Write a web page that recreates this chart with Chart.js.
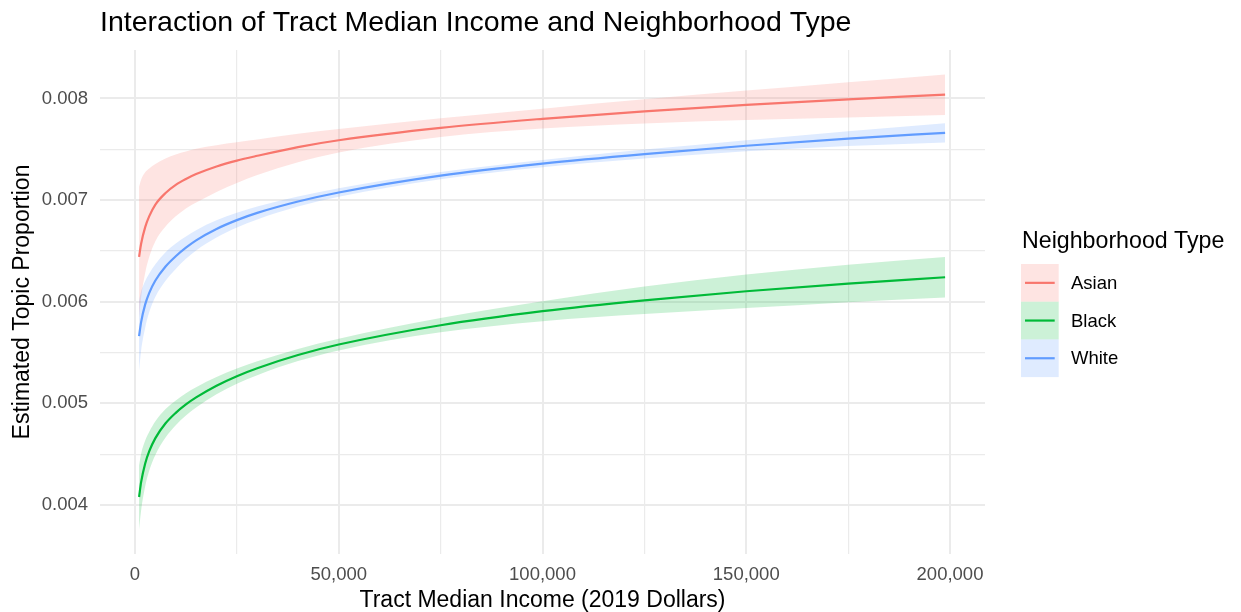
<!DOCTYPE html>
<html>
<head>
<meta charset="utf-8">
<title>Tract Median Income and Neighborhood Type</title>
<script src="https://cdn.jsdelivr.net/npm/chart.js@4"></script>
<style>
    html, body { margin: 0; padding: 0; background: #ffffff; }
    canvas { display: block; }
</style>
</head>
<body>
<canvas id="income-chart" width="1241" height="612"></canvas>
<script>
// Tract median income (2019 dollars) at which the fitted curves are sampled
const incomes = [1000, 1500, 2500, 3500, 5000, 7500, 10000, 12500, 15000, 20000, 25000, 30000, 40000, 50000, 75000, 100000, 125000, 150000, 175000, 198800];

// Estimated topic proportion with confidence band, per neighborhood type
const asianFit  = [0.006441, 0.006571, 0.006734, 0.006842, 0.006956, 0.007070, 0.007150, 0.007208, 0.007256, 0.007331, 0.007389, 0.007436, 0.007522, 0.007589, 0.007711, 0.007800, 0.007874, 0.007938, 0.007992, 0.008037];
const asianHigh = [0.007131, 0.007201, 0.007274, 0.007312, 0.007356, 0.007410, 0.007450, 0.007478, 0.007506, 0.007541, 0.007569, 0.007596, 0.007652, 0.007699, 0.007806, 0.007900, 0.007992, 0.008078, 0.008160, 0.008237];
const asianLow  = [0.005841, 0.006041, 0.006284, 0.006442, 0.006596, 0.006740, 0.006840, 0.006918, 0.006976, 0.007081, 0.007169, 0.007246, 0.007372, 0.007469, 0.007621, 0.007705, 0.007754, 0.007788, 0.007812, 0.007837];

const blackFit  = [0.004079, 0.004225, 0.004409, 0.004530, 0.004658, 0.004804, 0.004907, 0.004990, 0.005059, 0.005174, 0.005268, 0.005346, 0.005476, 0.005579, 0.005769, 0.005907, 0.006014, 0.006103, 0.006179, 0.006241];
const blackHigh = [0.004389, 0.004505, 0.004634, 0.004720, 0.004823, 0.004944, 0.005029, 0.005100, 0.005159, 0.005259, 0.005343, 0.005414, 0.005536, 0.005637, 0.005839, 0.006005, 0.006149, 0.006268, 0.006364, 0.006441];
const blackLow  = [0.003759, 0.003945, 0.004184, 0.004340, 0.004493, 0.004664, 0.004785, 0.004880, 0.004959, 0.005089, 0.005193, 0.005278, 0.005416, 0.005521, 0.005699, 0.005809, 0.005879, 0.005938, 0.005996, 0.006043];

const whiteFit  = [0.005662, 0.005800, 0.005974, 0.006088, 0.006209, 0.006347, 0.006448, 0.006532, 0.006604, 0.006716, 0.006803, 0.006874, 0.006986, 0.007075, 0.007241, 0.007359, 0.007453, 0.007535, 0.007605, 0.007662];
const whiteHigh = [0.006012, 0.006100, 0.006204, 0.006278, 0.006369, 0.006487, 0.006573, 0.006642, 0.006704, 0.006801, 0.006876, 0.006938, 0.007036, 0.007117, 0.007276, 0.007395, 0.007497, 0.007590, 0.007678, 0.007757];
const whiteLow  = [0.005322, 0.005520, 0.005744, 0.005898, 0.006049, 0.006207, 0.006323, 0.006422, 0.006504, 0.006631, 0.006730, 0.006810, 0.006936, 0.007033, 0.007206, 0.007323, 0.007409, 0.007480, 0.007532, 0.007567];

const groupNames = ['Asian', 'Black', 'White'];

// Axis breaks: labelled majors and unlabelled minors
const xMajor = [0, 50000, 100000, 150000, 200000];
const xMinor = [25000, 75000, 125000, 175000];
const yMajor = [0.004, 0.005, 0.006, 0.007, 0.008];
const yMinor = [0.0045, 0.0055, 0.0065, 0.0075];

const FONT = '"Liberation Sans", Arial, Helvetica, sans-serif';
const lineColors = { Asian: '#F8766D', Black: '#00BA38', White: '#619CFF' };
const bandColors = {
    Asian: 'rgba(248, 118, 109, 0.2)',
    Black: 'rgba(0, 186, 56, 0.2)',
    White: 'rgba(97, 156, 255, 0.2)',
};
const gridColor = '#EBEBEB';

const toPoints = (values) => incomes.map((x, i) => ({ x, y: values[i] }));

const series = {
    Asian: { fit: asianFit, high: asianHigh, low: asianLow },
    Black: { fit: blackFit, high: blackHigh, low: blackLow },
    White: { fit: whiteFit, high: whiteHigh, low: whiteLow },
};

// Lower dataset index is drawn on top, so lines come first, then bands.
// Within each, White is on top of Black on top of Asian.
const drawOrder = ['White', 'Black', 'Asian'];

const lineDatasets = drawOrder.map(name => ({
    label: name,
    data: toPoints(series[name].fit),
    borderColor: lineColors[name],
    borderWidth: 2.2,
    pointRadius: 0,
    fill: false,
    cubicInterpolationMode: 'monotone',
}));

const bandDatasets = drawOrder.flatMap(name => [
    {
        label: name + ' upper',
        data: toPoints(series[name].high),
        borderWidth: 0,
        borderColor: 'transparent',
        backgroundColor: bandColors[name],
        pointRadius: 0,
        fill: '+1',
        cubicInterpolationMode: 'monotone',
    },
    {
        label: name + ' lower',
        data: toPoints(series[name].low),
        borderWidth: 0,
        borderColor: 'transparent',
        pointRadius: 0,
        fill: false,
        cubicInterpolationMode: 'monotone',
    },
]);

const isMajor = (list, value) => list.some(v => Math.abs(v - value) < 1e-9);

// Legend in the right-hand margin: filled key with a line through it
const sideLegend = {
    id: 'sideLegend',
    afterDraw(chart) {
        const { ctx, chartArea } = chart;
        const left = chartArea.right + 36;
        const keySize = 37.7;
        const keyTop = 264;

        ctx.save();
        ctx.textBaseline = 'middle';
        ctx.textAlign = 'left';
        ctx.fillStyle = '#000000';
        ctx.font = `23.2px ${FONT}`;
        ctx.fillText('Neighborhood Type', left + 1, 242);

        groupNames.forEach((name, i) => {
            const top = keyTop + i * keySize;
            const mid = top + keySize / 2;

            ctx.fillStyle = bandColors[name];
            ctx.fillRect(left, top, keySize, keySize);

            ctx.strokeStyle = lineColors[name];
            ctx.lineWidth = 2.2;
            ctx.beginPath();
            ctx.moveTo(left + 4, mid);
            ctx.lineTo(left + keySize - 4, mid);
            ctx.stroke();

            ctx.fillStyle = '#000000';
            ctx.font = `18.5px ${FONT}`;
            ctx.fillText(name, left + 50, mid + 1);
        });
        ctx.restore();
    }
};

Chart.defaults.font.family = FONT;

const context = document.getElementById('income-chart').getContext('2d');

new Chart(context, {
    type: 'line',
    data: {
        datasets: [...lineDatasets, ...bandDatasets],
    },
    options: {
        responsive: false,
        animation: false,
        devicePixelRatio: 1,
        layout: {
            padding: { top: 0, right: 256, bottom: 0, left: 0 }
        },
        scales: {
            x: {
                type: 'linear',
                min: -8590,
                max: 208590,
                afterBuildTicks: (axis) => {
                    axis.ticks = [...xMajor, ...xMinor].sort((a, b) => a - b).map(value => ({ value }));
                },
                afterFit: (axis) => {
                    axis.height = 58;
                },
                border: { display: false },
                grid: {
                    color: gridColor,
                    drawTicks: false,
                    lineWidth: (ctx) => isMajor(xMajor, ctx.tick.value) ? 2 : 1.2,
                },
                ticks: {
                    autoSkip: false,
                    maxRotation: 0,
                    padding: 9.5,
                    color: '#4D4D4D',
                    font: { size: 18.5 },
                    callback: (value) => isMajor(xMajor, value) ? value.toLocaleString('en-US') : '',
                },
                title: {
                    display: true,
                    text: 'Tract Median Income (2019 Dollars)',
                    color: '#000000',
                    font: { size: 23, lineHeight: 1 },
                    padding: { top: 0, bottom: 0 },
                },
            },
            y: {
                type: 'linear',
                min: 0.003518,
                max: 0.008477,
                afterBuildTicks: (axis) => {
                    axis.ticks = [...yMajor, ...yMinor].sort((a, b) => a - b).map(value => ({ value }));
                },
                afterFit: (axis) => {
                    axis.width = 100;
                },
                border: { display: false },
                grid: {
                    color: gridColor,
                    drawTicks: false,
                    lineWidth: (ctx) => isMajor(yMajor, ctx.tick.value) ? 2 : 1.2,
                },
                ticks: {
                    autoSkip: false,
                    padding: 12,
                    color: '#4D4D4D',
                    font: { size: 18.5 },
                    callback: (value) => isMajor(yMajor, value) ? value.toFixed(3) : '',
                },
                title: {
                    display: true,
                    text: 'Estimated Topic Proportion',
                    color: '#000000',
                    font: { size: 23, lineHeight: 1 },
                    padding: { top: 11.5, bottom: 0 },
                },
            },
        },
        plugins: {
            legend: { display: false },
            tooltip: { enabled: false },
            title: {
                display: true,
                text: 'Interaction of Tract Median Income and Neighborhood Type',
                align: 'start',
                fullSize: false,
                color: '#000000',
                font: { size: 28.5, weight: 'normal', lineHeight: 1 },
                padding: { top: 9, bottom: 12.5 },
            },
        },
    },
    plugins: [sideLegend],
});
</script>
</body>
</html>
